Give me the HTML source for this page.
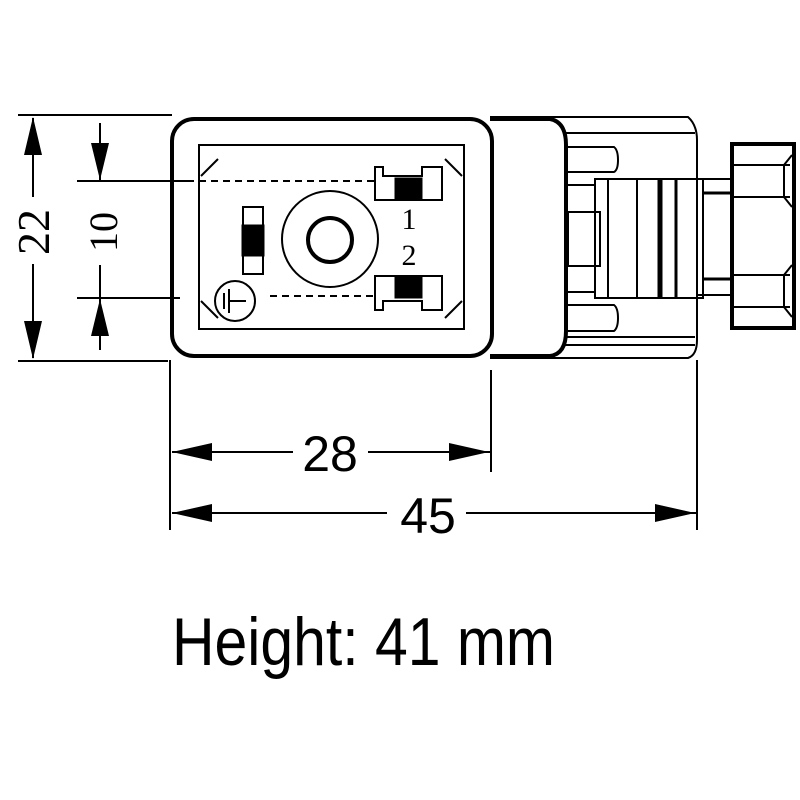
<!DOCTYPE html>
<html><head><style>html,body{margin:0;padding:0;background:#fff}svg{display:block}</style></head>
<body>
<svg width="800" height="800" viewBox="0 0 800 800" xmlns="http://www.w3.org/2000/svg" font-family="Liberation Sans, sans-serif">
<rect width="800" height="800" fill="#fff"/>
<g stroke="#000" fill="none">
<line x1="18" y1="115" x2="172" y2="115" stroke-width="2"/>
<line x1="18" y1="361" x2="168" y2="361" stroke-width="2"/>
<line x1="33" y1="118" x2="33" y2="197" stroke-width="2"/>
<line x1="33" y1="264" x2="33" y2="358" stroke-width="2"/>
<line x1="77" y1="181" x2="187" y2="181" stroke-width="2"/>
<line x1="77" y1="298" x2="180" y2="298" stroke-width="2"/>
<line x1="100" y1="123" x2="100" y2="181" stroke-width="2"/>
<line x1="100" y1="265" x2="100" y2="350" stroke-width="2"/>
<path d="M490 117 H688 Q697 125 697 140 V340 Q697 355 688 358 H490" stroke-width="2"/>
<line x1="565" y1="133" x2="695" y2="133" stroke-width="2"/>
<line x1="565" y1="337" x2="695" y2="337" stroke-width="2"/>
<line x1="565" y1="345" x2="695" y2="345" stroke-width="2"/>
<path d="M568 147 H614 Q618 150 618 160 Q618 170 614 172 H568" stroke-width="2"/>
<path d="M568 305 H614 Q618 308 618 318 Q618 328 614 331 H568" stroke-width="2"/>
<line x1="568" y1="185" x2="595" y2="185" stroke-width="2"/>
<line x1="568" y1="292" x2="595" y2="292" stroke-width="2"/>
<rect x="568" y="212" width="32" height="54" stroke-width="2"/>
<rect x="595" y="179" width="108" height="119" stroke-width="2"/>
<line x1="608" y1="179" x2="608" y2="298" stroke-width="2"/>
<line x1="637" y1="179" x2="637" y2="298" stroke-width="2"/>
<line x1="660" y1="179" x2="660" y2="298" stroke-width="5"/>
<line x1="676" y1="179" x2="676" y2="298" stroke-width="3"/>
<line x1="703" y1="193" x2="732" y2="193" stroke-width="3"/>
<line x1="703" y1="279" x2="732" y2="279" stroke-width="3"/>
<line x1="697" y1="179" x2="732" y2="179" stroke-width="2"/>
<line x1="697" y1="295" x2="732" y2="295" stroke-width="2"/>
<rect x="732" y="144" width="62" height="184" stroke-width="4"/>
<line x1="734" y1="165" x2="790" y2="165" stroke-width="2"/>
<line x1="734" y1="197" x2="790" y2="197" stroke-width="2"/>
<line x1="734" y1="275" x2="790" y2="275" stroke-width="2"/>
<line x1="734" y1="307" x2="790" y2="307" stroke-width="2"/>
<path d="M792 155 L784 165 L784 197 L792 207 M792 265 L784 275 L784 307 L792 317" stroke-width="2"/>
<line x1="697" y1="360" x2="697" y2="530" stroke-width="2"/>
<rect x="172" y="119" width="320" height="237" rx="22" stroke-width="4"/>
<path d="M490 119 H550 Q566 122 566 145 V331 Q566 354 550 356 H490" stroke-width="4"/>
<rect x="199" y="145" width="265" height="184" stroke-width="2"/>
<path d="M201 176 L218 159 M462 176 L445 159 M201 301 L218 318 M462 301 L445 318" stroke-width="2"/>
<line x1="187" y1="181" x2="375" y2="181" stroke-width="2" stroke-dasharray="7,5"/>
<line x1="270" y1="296" x2="375" y2="296" stroke-width="2" stroke-dasharray="7,5"/>
<path d="M375 167 H383 V176 H422 V167 H442 V200 H375 Z" stroke-width="2"/>
<rect x="395" y="178" width="27" height="22" fill="#000"/>
<path d="M375 276 H442 V310 H422 V301 H383 V310 H375 Z" stroke-width="2"/>
<rect x="395" y="276" width="27" height="22" fill="#000"/>
<rect x="243" y="207" width="20" height="67" stroke-width="2"/>
<rect x="242" y="225" width="22" height="31" fill="#000"/>
<circle cx="330" cy="239" r="48" stroke-width="2"/>
<circle cx="330" cy="240" r="22" stroke-width="4"/>
<circle cx="235" cy="301" r="20" stroke-width="2"/>
<path d="M224 293 V309 M229 289 V313 M229 301 H246" stroke-width="2"/>
<line x1="170" y1="360" x2="170" y2="530" stroke-width="2"/>
<line x1="491" y1="370" x2="491" y2="472" stroke-width="2"/>
<line x1="172" y1="452" x2="293" y2="452" stroke-width="2"/>
<line x1="368" y1="452" x2="490" y2="452" stroke-width="2"/>
<line x1="172" y1="513" x2="387" y2="513" stroke-width="2"/>
<line x1="466" y1="513" x2="696" y2="513" stroke-width="2"/>
</g>
<g fill="#000">
<polygon points="33,117 24,155 42,155"/>
<polygon points="33,359 24,321 42,321"/>
<polygon points="100,180 91,143 109,143"/>
<polygon points="100,299 91,336 109,336"/>
<polygon points="172,452 212,443 212,461"/>
<polygon points="489,452 449,443 449,461"/>
<polygon points="172,513 212,504 212,522"/>
<polygon points="695,513 655,504 655,522"/>
</g>
<g font-size="50" text-anchor="middle" fill="#000">
<text x="330" y="471" font-size="50">28</text>
<text x="428" y="533" font-size="50">45</text>
<text transform="translate(49,232) rotate(-90)" font-family="Liberation Serif, serif" font-size="46">22</text>
<text transform="translate(117,232) rotate(-90)" font-family="Liberation Serif, serif" font-size="40">10</text>
<text x="409" y="229" font-family="Liberation Serif, serif" font-size="30">1</text>
<text x="409" y="265" font-family="Liberation Serif, serif" font-size="30">2</text>
</g>
<text x="172" y="665" font-size="68" textLength="383" lengthAdjust="spacingAndGlyphs" fill="#000">Height: 41 mm</text>
</svg>
</body></html>
